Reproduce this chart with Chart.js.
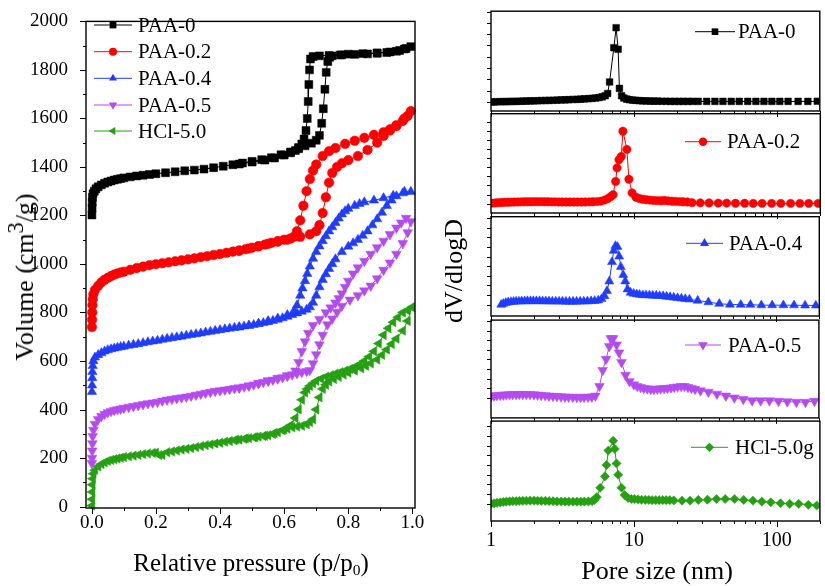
<!DOCTYPE html>
<html>
<head>
<meta charset="utf-8">
<script src="https://cdn.jsdelivr.net/npm/chart.js"></script>
<style>
  html, body { margin: 0; padding: 0; background: #fff; }
  #page { position: relative; width: 825px; height: 586px; overflow: hidden; background: #fff; }
  #page canvas { position: absolute; }
  .axisTitle { position: absolute; font-family: 'Liberation Serif', serif; line-height: 1; white-space: nowrap; color: #000; }
  .axisTitle sub { font-size: 0.62em; line-height: 0; vertical-align: -0.3em; }
  .axisTitle sup { font-size: 0.85em; line-height: 0; vertical-align: 0.45em; }
</style>
</head>
<body>
<div id="page">
  <canvas id="isoChart" width="440" height="586" style="left:0;top:0"></canvas>
</div>
<script>
// N2 isotherms: [p/p0, volume cm3/g], adsorption then desorption branch
const paa0Ads = [[0.0005,1202],[0.001,1230],[0.0015,1255],[0.002,1275],[0.004,1290],[0.008,1300],[0.013,1310],[0.02,1318],[0.03,1326],[0.04,1333],[0.05,1338],[0.06,1342],[0.07,1346],[0.08,1349],[0.09,1352],[0.1,1355],[0.12,1359],[0.14,1363],[0.16,1366],[0.18,1369],[0.2,1372],[0.23,1376],[0.26,1380],[0.29,1384],[0.32,1387],[0.35,1391],[0.38,1397],[0.41,1403],[0.44,1409],[0.47,1416],[0.5,1423],[0.53,1430],[0.56,1438],[0.59,1450],[0.62,1462],[0.645,1475],[0.665,1487],[0.685,1498],[0.7,1510],[0.71,1530],[0.717,1580],[0.722,1640],[0.727,1720],[0.731,1790],[0.736,1835],[0.742,1852],[0.75,1858],[0.775,1862],[0.8,1865],[0.845,1867],[0.89,1870],[0.93,1874],[0.96,1880],[0.98,1888],[0.995,1896]];
const paa0Des = [[0.975,1886],[0.95,1877],[0.92,1872],[0.89,1869],[0.86,1866],[0.82,1864],[0.78,1862],[0.74,1860],[0.71,1858],[0.69,1855],[0.682,1845],[0.679,1800],[0.677,1740],[0.675,1670],[0.672,1600],[0.668,1550],[0.662,1515],[0.655,1495],[0.645,1480],[0.635,1468],[0.62,1458],[0.6,1449],[0.57,1437],[0.54,1428],[0.5,1420],[0.46,1412]];
const paa02Ads = [[0.0005,740],[0.001,770],[0.0015,800],[0.002,830],[0.003,855],[0.005,875],[0.01,893],[0.02,910],[0.03,924],[0.04,935],[0.05,943],[0.06,950],[0.07,956],[0.08,961],[0.09,965],[0.1,968],[0.12,976],[0.14,983],[0.16,989],[0.18,995],[0.2,999],[0.22,1003],[0.24,1007],[0.26,1011],[0.28,1015],[0.3,1019],[0.32,1023],[0.34,1028],[0.36,1032],[0.38,1037],[0.4,1041],[0.42,1046],[0.44,1051],[0.46,1055],[0.48,1061],[0.5,1067],[0.52,1073],[0.54,1080],[0.56,1087],[0.58,1094],[0.6,1100],[0.62,1105],[0.65,1112],[0.68,1122],[0.7,1135],[0.71,1160],[0.72,1210],[0.73,1275],[0.74,1335],[0.75,1375],[0.765,1400],[0.78,1415],[0.8,1428],[0.83,1445],[0.86,1470],[0.89,1500],[0.91,1528],[0.93,1550],[0.95,1568],[0.97,1590],[0.985,1610],[0.995,1630]];
const paa02Des = [[0.975,1600],[0.95,1572],[0.93,1555],[0.91,1543],[0.88,1532],[0.85,1520],[0.82,1508],[0.79,1495],[0.76,1478],[0.74,1465],[0.72,1445],[0.7,1410],[0.69,1385],[0.68,1350],[0.67,1300],[0.66,1240],[0.65,1180],[0.64,1135],[0.63,1112],[0.61,1100],[0.58,1092],[0.55,1083],[0.52,1073],[0.49,1064],[0.46,1055]];
const paa04Ads = [[0.0005,473],[0.001,500],[0.0015,530],[0.002,555],[0.003,580],[0.005,600],[0.01,615],[0.02,625],[0.03,633],[0.04,640],[0.05,645],[0.06,649],[0.07,652],[0.08,655],[0.09,658],[0.1,660],[0.115,664],[0.13,667],[0.145,670],[0.16,674],[0.175,678],[0.19,681],[0.205,684],[0.22,688],[0.235,692],[0.25,695],[0.265,698],[0.28,701],[0.295,705],[0.31,708],[0.325,711],[0.34,714],[0.355,718],[0.37,721],[0.385,725],[0.4,728],[0.415,731],[0.43,734],[0.445,737],[0.46,740],[0.475,743],[0.49,746],[0.505,749],[0.52,753],[0.535,757],[0.55,761],[0.565,766],[0.58,771],[0.595,777],[0.61,783],[0.625,790],[0.64,797],[0.655,804],[0.67,812],[0.68,822],[0.69,841],[0.7,870],[0.71,905],[0.72,935],[0.73,958],[0.74,980],[0.75,1000],[0.76,1020],[0.78,1050],[0.8,1072],[0.815,1086],[0.83,1100],[0.845,1117],[0.86,1135],[0.875,1160],[0.89,1185],[0.905,1212],[0.92,1240],[0.935,1262],[0.95,1280],[0.975,1298],[0.995,1298]];
const paa04Des = [[0.97,1292],[0.94,1282],[0.91,1272],[0.88,1262],[0.85,1255],[0.835,1248],[0.82,1240],[0.8,1228],[0.79,1218],[0.78,1205],[0.77,1188],[0.76,1170],[0.75,1152],[0.74,1135],[0.73,1115],[0.72,1095],[0.71,1073],[0.7,1050],[0.69,1022],[0.68,990],[0.672,960],[0.665,930],[0.657,900],[0.65,870],[0.64,830],[0.63,805],[0.61,790],[0.58,776],[0.55,765],[0.52,754],[0.49,746],[0.46,739]];
const paa05Ads = [[0.0005,178],[0.001,200],[0.0015,230],[0.002,260],[0.003,290],[0.005,315],[0.01,340],[0.02,360],[0.03,372],[0.04,381],[0.05,388],[0.06,393],[0.07,397],[0.08,400],[0.09,403],[0.1,406],[0.115,410],[0.13,413],[0.145,417],[0.16,421],[0.175,425],[0.19,428],[0.205,431],[0.22,436],[0.235,440],[0.25,443],[0.265,446],[0.28,449],[0.295,452],[0.31,456],[0.325,460],[0.34,464],[0.355,468],[0.37,472],[0.385,476],[0.4,478],[0.415,481],[0.43,484],[0.445,487],[0.46,490],[0.475,494],[0.49,498],[0.505,502],[0.52,508],[0.535,513],[0.55,518],[0.565,522],[0.58,527],[0.595,532],[0.61,538],[0.625,544],[0.64,549],[0.655,554],[0.67,558],[0.68,562],[0.69,590],[0.7,627],[0.71,668],[0.72,707],[0.735,750],[0.75,774],[0.765,802],[0.78,827],[0.805,852],[0.83,870],[0.85,890],[0.87,910],[0.89,940],[0.91,975],[0.93,1005],[0.95,1041],[0.97,1085],[0.985,1130],[0.995,1175]];
const paa05Des = [[0.98,1189],[0.965,1170],[0.95,1149],[0.93,1122],[0.91,1095],[0.89,1068],[0.87,1041],[0.85,1012],[0.83,985],[0.815,960],[0.8,930],[0.79,905],[0.78,878],[0.77,858],[0.76,840],[0.745,820],[0.73,800],[0.71,772],[0.69,747],[0.675,715],[0.665,680],[0.655,640],[0.645,595],[0.635,560],[0.61,540],[0.58,530],[0.55,519],[0.52,508],[0.49,498],[0.46,490]];
const hcl5Ads = [[0.0005,4],[0.001,30],[0.0015,60],[0.002,90],[0.003,115],[0.005,135],[0.01,150],[0.02,165],[0.03,175],[0.04,182],[0.05,188],[0.06,192],[0.07,195],[0.08,198],[0.09,201],[0.1,204],[0.115,207],[0.13,210],[0.145,213],[0.16,216],[0.175,219],[0.19,221],[0.2,222],[0.21,212],[0.22,213],[0.235,224],[0.25,227],[0.265,231],[0.28,235],[0.295,238],[0.31,241],[0.325,245],[0.34,249],[0.355,253],[0.37,256],[0.385,260],[0.4,263],[0.415,267],[0.43,270],[0.445,273],[0.46,276],[0.475,279],[0.49,282],[0.505,285],[0.52,288],[0.535,291],[0.55,294],[0.565,299],[0.58,306],[0.595,314],[0.61,321],[0.625,327],[0.64,330],[0.655,333],[0.67,339],[0.68,348],[0.69,360],[0.7,400],[0.71,450],[0.72,485],[0.73,502],[0.74,515],[0.755,526],[0.77,535],[0.785,544],[0.8,552],[0.82,561],[0.84,570],[0.855,580],[0.87,590],[0.89,606],[0.905,625],[0.92,647],[0.935,670],[0.95,692],[0.97,725],[0.985,765],[0.998,822]];
const hcl5Des = [[0.985,808],[0.97,800],[0.955,780],[0.94,760],[0.925,735],[0.91,707],[0.895,672],[0.88,640],[0.865,618],[0.85,600],[0.835,586],[0.82,575],[0.805,567],[0.79,560],[0.775,554],[0.76,548],[0.745,541],[0.73,535],[0.715,527],[0.7,518],[0.69,508],[0.68,497],[0.672,485],[0.665,470],[0.655,440],[0.645,400],[0.635,365],[0.62,335],[0.6,318],[0.57,303],[0.54,292],[0.51,286],[0.48,281],[0.45,276]];

// BJH pore size distributions: [pore size nm, dV/dlogD (a.u., per panel)]
const psdPaa0 = [[1.0,0],[1.05,0],[1.1,0.02],[1.16,0.02],[1.22,0.03],[1.28,0.03],[1.35,0.04],[1.42,0.05],[1.5,0.05],[1.58,0.06],[1.67,0.07],[1.77,0.08],[1.88,0.09],[2.0,0.1],[2.12,0.11],[2.25,0.12],[2.4,0.13],[2.55,0.14],[2.72,0.15],[2.9,0.16],[3.1,0.18],[3.3,0.19],[3.5,0.2],[3.75,0.22],[4.0,0.23],[4.25,0.25],[4.5,0.27],[4.8,0.29],[5.1,0.32],[5.4,0.35],[5.7,0.39],[6.0,0.45],[6.3,0.55],[6.55,0.75],[6.76,1.77],[7.24,4.8],[7.51,6.57],[7.76,4.66],[7.92,1.2],[8.2,0.55],[8.5,0.35],[8.9,0.25],[9.3,0.2],[9.8,0.16],[10.3,0.14],[10.9,0.12],[11.5,0.1],[12.2,0.09],[13.0,0.08],[13.8,0.07],[14.7,0.07],[15.7,0.06],[16.8,0.06],[18.0,0.05],[19.3,0.05],[20.7,0.05],[22.2,0.05],[23.8,0.05],[25.6,0.05],[28.2,0.05],[32.3,0.05],[36.9,0.05],[42.0,0.05],[48.0,0.05],[54.6,0.05],[62.6,0.05],[71.4,0.05],[81.3,0.05],[92.4,0.05],[105,0.05],[120,0.05],[141,0.05],[165,0.05],[192,0.06]];
const psdPaa02 = [[1.03,0.05],[1.08,0.08],[1.13,0.1],[1.19,0.12],[1.25,0.14],[1.32,0.15],[1.39,0.16],[1.46,0.17],[1.54,0.18],[1.62,0.19],[1.71,0.2],[1.8,0.2],[1.9,0.2],[2.0,0.21],[2.11,0.21],[2.23,0.21],[2.36,0.2],[2.5,0.2],[2.65,0.19],[2.8,0.19],[2.97,0.18],[3.15,0.18],[3.35,0.17],[3.55,0.17],[3.78,0.17],[4.02,0.17],[4.28,0.17],[4.55,0.18],[4.85,0.19],[5.15,0.2],[5.5,0.22],[5.85,0.27],[6.2,0.38],[6.55,0.55],[6.85,0.75],[7.13,0.97],[7.43,2.43],[7.6,3.94],[7.84,4.84],[8.13,5.19],[8.35,7.99],[8.9,5.98],[9.2,2.69],[9.68,1.18],[10.3,0.7],[10.9,0.55],[11.5,0.48],[12.2,0.42],[12.9,0.38],[13.7,0.35],[14.5,0.33],[15.4,0.32],[16.3,0.34],[17.3,0.3],[18.4,0.26],[19.5,0.24],[20.7,0.22],[22.0,0.2],[23.5,0.18],[25.4,0.1],[29.0,0.08],[33.4,0.07],[38.7,0.05],[44.3,0.05],[51.1,0.03],[59.2,0.03],[68.0,0.02],[78.4,0.02],[91.4,0.02],[106,0.02],[124,0.02],[144,0.02],[166,0.02],[193,0.02]];
const psdPaa04 = [[1.18,0],[1.22,0.1],[1.27,0.2],[1.32,0.25],[1.38,0.3],[1.44,0.32],[1.5,0.34],[1.57,0.35],[1.64,0.36],[1.72,0.37],[1.8,0.38],[1.89,0.38],[1.98,0.38],[2.08,0.38],[2.19,0.38],[2.3,0.37],[2.42,0.37],[2.55,0.36],[2.69,0.35],[2.84,0.35],[3.0,0.34],[3.17,0.34],[3.35,0.33],[3.55,0.33],[3.76,0.33],[3.98,0.33],[4.22,0.34],[4.47,0.35],[4.74,0.36],[5.03,0.38],[5.33,0.4],[5.65,0.45],[5.95,0.6],[6.25,0.9],[6.5,1.43],[6.75,2.43],[7.05,4.43],[7.25,5.6],[7.45,6.1],[7.7,6.0],[7.92,5.0],[8.13,3.93],[8.45,3.1],[8.73,2.43],[9.05,1.6],[9.52,1.26],[10.0,1.15],[10.5,1.1],[11.0,1.05],[11.6,1.0],[12.2,1.0],[12.9,0.98],[13.6,0.95],[14.4,0.95],[15.2,0.92],[16.1,0.9],[17.0,0.85],[18.0,0.8],[19.1,0.75],[20.3,0.7],[21.6,0.65],[23.0,0.6],[24.6,0.55],[28.1,0.43],[33.4,0.27],[39.8,0.1],[47.3,0.02],[56.3,0],[65.8,0],[78.5,-0.05],[93.5,-0.05],[112,-0.05],[133,-0.05],[159,-0.07],[189,-0.07]];
const psdPaa05 = [[1.0,0.15],[1.05,0.2],[1.1,0.25],[1.16,0.28],[1.22,0.3],[1.28,0.32],[1.35,0.34],[1.42,0.35],[1.5,0.36],[1.58,0.37],[1.67,0.37],[1.77,0.36],[1.88,0.35],[2.0,0.33],[2.12,0.3],[2.25,0.27],[2.4,0.24],[2.55,0.2],[2.72,0.17],[2.9,0.14],[3.1,0.12],[3.3,0.1],[3.5,0.08],[3.75,0.07],[4.0,0.06],[4.25,0.06],[4.5,0.07],[4.8,0.08],[5.1,0.1],[5.4,0.2],[5.77,1.2],[6.08,2.87],[6.42,4.03],[6.76,5.37],[6.93,6.2],[7.2,6.2],[7.6,5.53],[7.92,4.7],[8.24,3.7],[8.8,2.37],[9.37,1.7],[10.05,1.37],[10.6,1.2],[11.2,1.1],[11.8,1.0],[12.5,0.95],[13.2,0.9],[13.9,0.9],[14.7,0.92],[15.5,0.95],[16.4,0.98],[17.3,1.0],[18.3,1.05],[19.3,1.1],[20.4,1.15],[21.6,1.2],[22.8,1.2],[24.1,1.1],[25.5,1.0],[27.0,0.9],[29.5,0.75],[33.5,0.6],[38.5,0.4],[44.5,0.2],[51,0],[59,-0.15],[68,-0.3],[78,-0.3],[90,-0.3],[104,-0.35],[120,-0.4],[139,-0.45],[161,-0.45],[186,-0.35]];
const psdHcl5 = [[1.0,0],[1.05,0.05],[1.1,0.1],[1.16,0.15],[1.22,0.2],[1.28,0.22],[1.35,0.25],[1.42,0.27],[1.5,0.28],[1.58,0.3],[1.67,0.31],[1.77,0.32],[1.88,0.33],[2.0,0.33],[2.12,0.32],[2.25,0.31],[2.4,0.3],[2.55,0.28],[2.72,0.27],[2.9,0.25],[3.1,0.24],[3.3,0.23],[3.5,0.22],[3.75,0.22],[4.0,0.22],[4.25,0.22],[4.5,0.23],[4.8,0.25],[5.1,0.28],[5.3,0.4],[5.5,0.7],[5.81,1.66],[6.27,2.83],[6.43,4.0],[6.62,5.5],[7.16,6.5],[7.34,5.66],[7.55,4.16],[7.76,3.0],[8.18,1.66],[8.6,0.9],[9.1,0.6],[9.6,0.5],[10.1,0.5],[10.7,0.45],[11.3,0.42],[12.0,0.4],[12.7,0.4],[13.4,0.38],[14.2,0.38],[15.0,0.38],[15.9,0.38],[16.8,0.38],[17.8,0.38],[19.0,0.35],[21.7,0.33],[24.7,0.33],[28.2,0.4],[32.7,0.43],[37.8,0.5],[43.5,0.5],[50.5,0.5],[58.6,0.4],[68.0,0.33],[78.4,0.23],[90.6,0.16],[106,0.06],[123,0],[142,0],[166,-0.1],[190,-0.17]];

const isoNames = ['PAA-0', 'PAA-0.2', 'PAA-0.4', 'PAA-0.5', 'HCl-5.0'];
const psdNames = ['PAA-0', 'PAA-0.2', 'PAA-0.4', 'PAA-0.5', 'HCl-5.0g'];
const pressureTicks = [0, 0.2, 0.4, 0.6, 0.8, 1.0];
const volumeTicks = [0, 200, 400, 600, 800, 1000, 1200, 1400, 1600, 1800, 2000];
const poreTicks = [1, 10, 100];

const isoBranches = [[paa0Ads, paa0Des], [paa02Ads, paa02Des], [paa04Ads, paa04Des], [paa05Ads, paa05Des], [hcl5Ads, hcl5Des]];
const psdSeries = [psdPaa0, psdPaa02, psdPaa04, psdPaa05, psdHcl5];

// looks
const FONT = "'Liberation Serif', 'Times New Roman', serif";
const looks = [
  { color: '#000000', style: 'rect',     rot: 0,   rIso: 5.6, rPsd: 4.7 },
  { color: '#ff0000', style: 'circle',   rot: 0,   rIso: 4.8, rPsd: 4.2 },
  { color: '#1f3cff', style: 'triangle', rot: 0,   rIso: 5.4, rPsd: 5.2 },
  { color: '#b44af0', style: 'triangle', rot: 180, rIso: 5.6, rPsd: 5.6 },
  { color: '#25a012', style: 'triangle', rot: -90, rIso: 5.4, rPsd: 4.6 }
];
const psdStyle = ['rect', 'circle', 'triangle', 'triangle', 'rectRot'];
const psdRot = [0, 0, 0, 180, 0];

const page = document.getElementById('page');

function marker(ctx, style, rot, r, x, y) {
  if (Chart.helpers && Chart.helpers.drawPoint) {
    Chart.helpers.drawPoint(ctx, { pointStyle: style, rotation: rot, radius: r, borderWidth: 0 }, x, y);
    return;
  }
  ctx.beginPath(); ctx.arc(x, y, r, 0, Math.PI * 2); ctx.fill();
}

// frame, outward tick marks and line+symbol key
function decor(cfg) {
  return {
    id: 'decor',
    afterDraw(chart) {
      const ctx = chart.ctx, a = chart.chartArea;
      ctx.save();
      ctx.strokeStyle = '#000';
      ctx.lineWidth = 1;
      cfg.marks.forEach(m => {
        const s = chart.scales[m.axis];
        m.values.forEach(v => {
          const major = m.majors.some(t => Math.abs(t - v) < 1e-9);
          const len = major ? m.big : m.small;
          const p = Math.round(s.getPixelForValue(v)) + 0.5;
          ctx.beginPath();
          if (m.axis === 'x') { ctx.moveTo(p, a.bottom); ctx.lineTo(p, a.bottom + len); }
          else { ctx.moveTo(a.left, p); ctx.lineTo(a.left - len, p); }
          ctx.stroke();
        });
      });
      ctx.lineWidth = 1.4;
      ctx.strokeRect(a.left, a.top, a.right - a.left, a.bottom - a.top);

      ctx.font = '21px ' + FONT;
      ctx.textBaseline = 'middle';
      ctx.textAlign = 'left';
      cfg.keys.forEach(k => {
        ctx.strokeStyle = k.color;
        ctx.lineWidth = 1;
        ctx.beginPath(); ctx.moveTo(k.x0, k.y); ctx.lineTo(k.x1, k.y); ctx.stroke();
        ctx.fillStyle = k.color;
        marker(ctx, k.style, k.rot, k.r, (k.x0 + k.x1) / 2, k.y);
        ctx.fillStyle = '#000';
        ctx.fillText(k.text, k.tx, k.y + 1);
      });
      ctx.restore();
    }
  };
}

const fixTicks = list => scale => { scale.ticks = list.map(v => ({ value: v })); };

// ---------- left: isotherms ----------
const isoKeyRows = [25, 51.7, 78.3, 105, 131];
const pressureMinor = [];
for (let i = 0; i <= 10; i++) pressureMinor.push(i / 10);
const volumeMinor = [];
for (let v = 0; v <= 2000; v += 100) volumeMinor.push(v);

new Chart(document.getElementById('isoChart'), {
  type: 'scatter',
  data: {
    datasets: isoBranches.map((br, i) => ({
      label: isoNames[i],
      data: br[0].concat(br[1]).map(([x, y]) => ({ x, y })),
      showLine: true,
      borderColor: looks[i].color,
      borderWidth: 1,
      pointStyle: looks[i].style,
      pointRotation: looks[i].rot,
      pointRadius: looks[i].rIso,
      pointBackgroundColor: looks[i].color,
      pointBorderColor: looks[i].color,
      pointBorderWidth: 0.5,
      clip: 6
    }))
  },
  options: {
    responsive: false,
    animation: false,
    events: [],
    layout: { padding: { top: 8, right: 25, bottom: 0, left: 0 } },
    plugins: { legend: { display: false }, tooltip: { enabled: false } },
    scales: {
      x: {
        type: 'linear', min: -0.018, max: 1.008,
        grid: { display: false }, border: { display: false },
        afterBuildTicks: fixTicks(pressureTicks),
        ticks: {
          autoSkip: false, maxRotation: 0, padding: -4,
          color: '#000', font: { family: FONT, size: 19 },
          callback: v => Number(v).toFixed(1)
        },
        afterFit: s => { s.height = 78; }
      },
      y: {
        type: 'linear', min: -6, max: 2000,
        grid: { display: false }, border: { display: false },
        afterBuildTicks: fixTicks(volumeTicks),
        ticks: {
          autoSkip: false, padding: 10,
          color: '#000', font: { family: FONT, size: 19 },
          callback: v => String(v)
        },
        afterFit: s => { s.width = 86; }
      }
    }
  },
  plugins: [decor({
    marks: [
      { axis: 'x', values: pressureMinor, majors: pressureTicks, big: 6, small: 3 },
      { axis: 'y', values: volumeMinor, majors: volumeTicks, big: 6, small: 3 }
    ],
    keys: isoNames.map((n, i) => ({
      text: n, color: looks[i].color, style: looks[i].style, rot: looks[i].rot, r: looks[i].rIso - 0.8,
      x0: 94, x1: 132, tx: 138, y: isoKeyRows[i]
    }))
  })]
});

// ---------- right: stacked pore size panels ----------
const panelTops = [8, 111, 213, 316, 418];
const panelBottoms = [111, 213, 316, 418, 521];
const panelRanges = [[-0.8, 8.03], [-1.04, 9.92], [-1.17, 9.13], [-2.1, 8.1], [-1.77, 8.53]];
const psdKeys = [
  { x0: 695, x1: 735, tx: 738, y: 31.7 },
  { x0: 685, x1: 721, tx: 727, y: 141.7 },
  { x0: 686, x1: 723, tx: 729, y: 243.3 },
  { x0: 685, x1: 721, tx: 728, y: 345 },
  { x0: 691, x1: 728, tx: 735, y: 447.3 }
];
const logMinor = [];
[1, 10, 100].forEach(dec => { for (let k = 1; k <= 9; k++) if (dec * k <= 200) logMinor.push(dec * k); });

psdSeries.forEach((series, i) => {
  const last = i === psdSeries.length - 1;
  const top = panelTops[i] - 2;
  const xAxisH = last ? 586 - panelBottoms[i] : 6;
  const cv = document.createElement('canvas');
  cv.width = 405;
  cv.height = 2 + (panelBottoms[i] - panelTops[i]) + xAxisH;
  cv.style.left = '420px';
  cv.style.top = top + 'px';
  page.appendChild(cv);

  const [ymin, ymax] = panelRanges[i];
  const yMarks = [];
  for (let v = 0; v <= ymax; v++) yMarks.push(v);
  const k = psdKeys[i];

  new Chart(cv, {
    type: 'scatter',
    data: {
      datasets: [{
        label: psdNames[i],
        data: series.map(([x, y]) => ({ x, y })),
        showLine: true,
        borderColor: looks[i].color,
        borderWidth: 1,
        pointStyle: psdStyle[i],
        pointRotation: psdRot[i],
        pointRadius: looks[i].rPsd,
        pointBackgroundColor: looks[i].color,
        pointBorderColor: looks[i].color,
        pointBorderWidth: 0.5
      }]
    },
    options: {
      responsive: false,
      animation: false,
      events: [],
      layout: { padding: { top: 2, right: 1, bottom: 0, left: 0 } },
      plugins: { legend: { display: false }, tooltip: { enabled: false } },
      scales: {
        x: {
          type: 'logarithmic', min: 1, max: 200,
          grid: { display: false }, border: { display: false },
          afterBuildTicks: fixTicks(poreTicks),
          ticks: {
            display: last, autoSkip: false, maxRotation: 0, padding: 0,
            color: '#000', font: { family: FONT, size: 20 },
            callback: v => String(v)
          },
          afterFit: s => { s.height = xAxisH; }
        },
        y: {
          type: 'linear', min: ymin, max: ymax,
          grid: { display: false }, border: { display: false },
          ticks: { display: false },
          afterFit: s => { s.width = 71; }
        }
      }
    },
    plugins: [decor({
      marks: [
        { axis: 'x', values: logMinor, majors: poreTicks, big: 6, small: 3 },
        { axis: 'y', values: yMarks, majors: [], big: 4, small: 4 }
      ],
      keys: [{
        text: psdNames[i], color: looks[i].color, style: psdStyle[i], rot: psdRot[i], r: looks[i].rPsd,
        x0: k.x0 - 420, x1: k.x1 - 420, tx: k.tx - 420, y: k.y - top
      }]
    })]
  });
});

// axis titles
function addTitle(html, cx, cy, size, vertical) {
  const d = document.createElement('div');
  d.className = 'axisTitle';
  d.innerHTML = html;
  d.style.left = cx + 'px';
  d.style.top = cy + 'px';
  d.style.fontSize = size + 'px';
  d.style.transform = 'translate(-50%, -50%)' + (vertical ? ' rotate(-90deg)' : '');
  page.appendChild(d);
}
addTitle('Relative pressure (p/p<sub>0</sub>)', 251, 562, 25, false);
addTitle('Pore size (nm)', 657, 571, 26, false);
addTitle('Volume (cm<sup>3</sup>/g)', 25, 277, 26, true);
addTitle('dV/dlogD', 454, 271, 26, true);
</script>
</body>
</html>
